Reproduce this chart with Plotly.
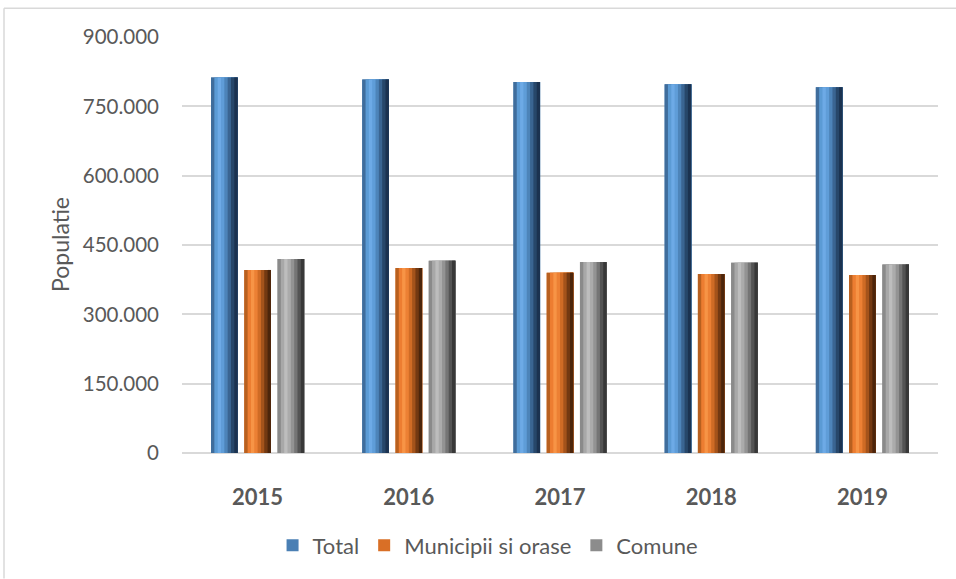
import plotly.graph_objects as go

years = ["2015", "2016", "2017", "2018", "2019"]
total = [812500, 808000, 802500, 798000, 791500]
municipii = [396000, 400000, 390000, 387000, 385000]
comune = [419500, 416000, 413000, 411500, 408000]

series = [
    ("Total", total, ["#3f6d9c", "#5b9bd5", "#6daae6", "#5f9dd8", "#4d84b9", "#3a6592", "#27476a", "#1b3250"], "#4a7fb4"),
    ("Municipii si orase", municipii, ["#b8601f", "#ed7d31", "#f79446", "#ec8034", "#cf6b25", "#a4531b", "#733912", "#4c250b"], "#d96f26"),
    ("Comune", comune, ["#8a8a8a", "#a8a8a8", "#bdbdbd", "#ababab", "#939393", "#757575", "#545454", "#383838"], "#8c8c8c"),
]

W = 0.176
offsets = [-0.308, -0.088, 0.132]

fig = go.Figure()
for (name, vals, cols, legcol), off in zip(series, offsets):
    fig.add_trace(go.Bar(x=years, y=vals, name=name, offset=off, width=W,
                         marker=dict(color=legcol, line=dict(width=0)),
                         legendgroup=name, showlegend=True, hoverinfo="skip"))
    n = len(cols)
    for i, c in enumerate(cols):
        fig.add_trace(go.Bar(x=years, y=vals, name=name, offset=off + i * W / n,
                             width=W - i * W / n,
                             marker=dict(color=c, line=dict(width=0)),
                             legendgroup=name, showlegend=False))

font_family = "Lato, 'Noto Sans', sans-serif"
fig.update_layout(
    width=956, height=579,
    margin=dict(l=182, r=18, t=37, b=126),
    paper_bgcolor="white", plot_bgcolor="white",
    barmode="overlay",
    separators=",.",
    font=dict(family=font_family, color="#595959", size=20),
    legend=dict(orientation="h", xref="container", yref="container",
                x=0.51, y=0.058, xanchor="center", yanchor="middle",
                font=dict(size=22, color="#595959"), traceorder="normal",
                itemwidth=30),
    xaxis=dict(showgrid=False, showline=False, ticks="",
               tickfont=dict(size=22, color="#595959", family=font_family, weight="bold"),
               ticklabelstandoff=29),
    yaxis=dict(range=[0, 900000], dtick=150000, tickformat=",d",
               showgrid=True, gridcolor="#d9d9d9", gridwidth=1.5,
               zeroline=True, zerolinecolor="#d9d9d9", zerolinewidth=1.5,
               showline=False, ticks="",
               tickfont=dict(size=20.5, color="#595959"),
               ticklabelstandoff=22),
    annotations=[dict(text="Populatie", xref="paper", yref="paper",
                      x=(60 - 182) / 756, y=0.5, textangle=-90, showarrow=False,
                      font=dict(size=23, color="#595959"),
                      xanchor="center", yanchor="middle")],
    shapes=[
        dict(type="line", xref="paper", yref="paper",
             x0=(4 - 182) / 756, x1=(4 - 182) / 756,
             y0=(453.3 - 8) / 416.6, y1=(453.3 - 579) / 416.6,
             line=dict(color="#d9d9d9", width=1.5)),
        dict(type="line", xref="paper", yref="paper",
             x0=(4 - 182) / 756, x1=(956 - 182) / 756,
             y0=(453.3 - 8) / 416.6, y1=(453.3 - 8) / 416.6,
             line=dict(color="#d9d9d9", width=1.5)),
    ],
)

fig.write_html("out.html", config={"displayModeBar": False},
               post_script="document.body.style.margin='0';document.body.style.overflow='hidden';")
